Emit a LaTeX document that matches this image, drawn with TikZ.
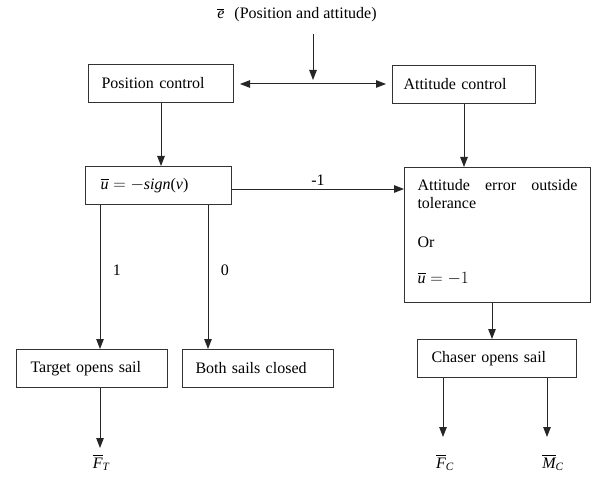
\documentclass[tikz,border=0pt]{standalone}
\usepackage{amsmath}
\usepackage{fontspec}
\setmainfont{Liberation Serif}
\usetikzlibrary{arrows.meta,positioning}
\newcommand{\barit}[1]{\overline{\text{\itshape #1}}}

\begin{document}
\begin{tikzpicture}[x=1pt,y=-1pt,>={Triangle[length=10pt,width=7.5pt]},
    every node/.style={font=\fontsize{16}{18}\selectfont},
    box/.style={draw=black!80,line width=1pt,anchor=north west,minimum height=38pt,inner ysep=0pt,align=left},
    arr/.style={draw=black!85,line width=1pt,->}]
  \useasboundingbox (0,0) rectangle (599,481);

  \node (e) at (297,15) {$\barit{e}$\hspace{10pt}(Position and attitude)};
  \node[box,text width=119pt,inner xsep=13pt] (p) at (88,64) {Position control};
  \node[box,text width=121pt,inner xsep=11pt] (a) at (392,65) {Attitude control};
  \node[box,text width=116pt,inner xsep=15pt] (u) at (85,166) {$\barit{u}=-$\textit{sign}(\textit{v})};
  \node[box,text width=160pt,inner xsep=13pt,inner ysep=12pt,minimum height=135pt,align=justify] (g) at (404,167)
    {Attitude error outside \mbox{tolerance}\\[21pt]Or\\[18pt]$\barit{u}=-1$\rule[-7pt]{0pt}{7pt}};
  \node[box,text width=123pt,inner xsep=14pt] (t) at (16,349) {Target opens sail};
  \node[box,text width=125pt,inner xsep=13pt] (b) at (182,349) {Both sails closed};
  \node[box,text width=131pt,inner xsep=14pt] (c) at (417,339) {Chaser opens sail};
  \node[anchor=north,inner sep=0pt] (ft) at (101,454) {$\barit{F}_{\textit{T}}$};
  \node[anchor=north,inner sep=0pt] (fc) at (445,454) {$\barit{F}_{\textit{C}}$};
  \node[anchor=north,inner sep=0pt] (mc) at (553,454) {$\barit{M}_{\textit{C}}$};

  \coordinate (m) at (313,84);
  \coordinate (uy) at (0,189);
  \coordinate (tx) at (100,0);
  \coordinate (bx) at (208,0);
  \coordinate (cx) at (492,0);
  \coordinate (fx) at (443,0);
  \coordinate (mx) at (547,0);

  \draw[arr,shorten <=8pt,shorten >=4pt] (m |- e.south) -- (m);
  \draw[arr,<->,shorten <=6pt,shorten >=6pt] (p.east |- m) -- (a.west |- m);
  \draw[arr] (p.south) -- (p.south |- u.north);
  \draw[arr] (a.south) -- (a.south |- g.north);
  \draw[arr] (u.east |- uy) -- (g.west |- uy) node[midway,above] {-1};
  \draw[arr] (tx |- u.south) -- (tx |- t.north) node[pos=0.45,right=9pt] {1};
  \draw[arr] (bx |- u.south) -- (bx |- b.north) node[pos=0.45,right=9pt] {0};
  \draw[arr] (cx |- g.south) -- (cx |- c.north);
  \draw[arr,shorten >=6pt] (tx |- t.south) -- (tx |- ft.north);
  \draw[arr,shorten >=17pt] (fx |- c.south) -- (fx |- fc.north);
  \draw[arr,shorten >=17pt] (mx |- c.south) -- (mx |- mc.north);
\end{tikzpicture}
\end{document}
